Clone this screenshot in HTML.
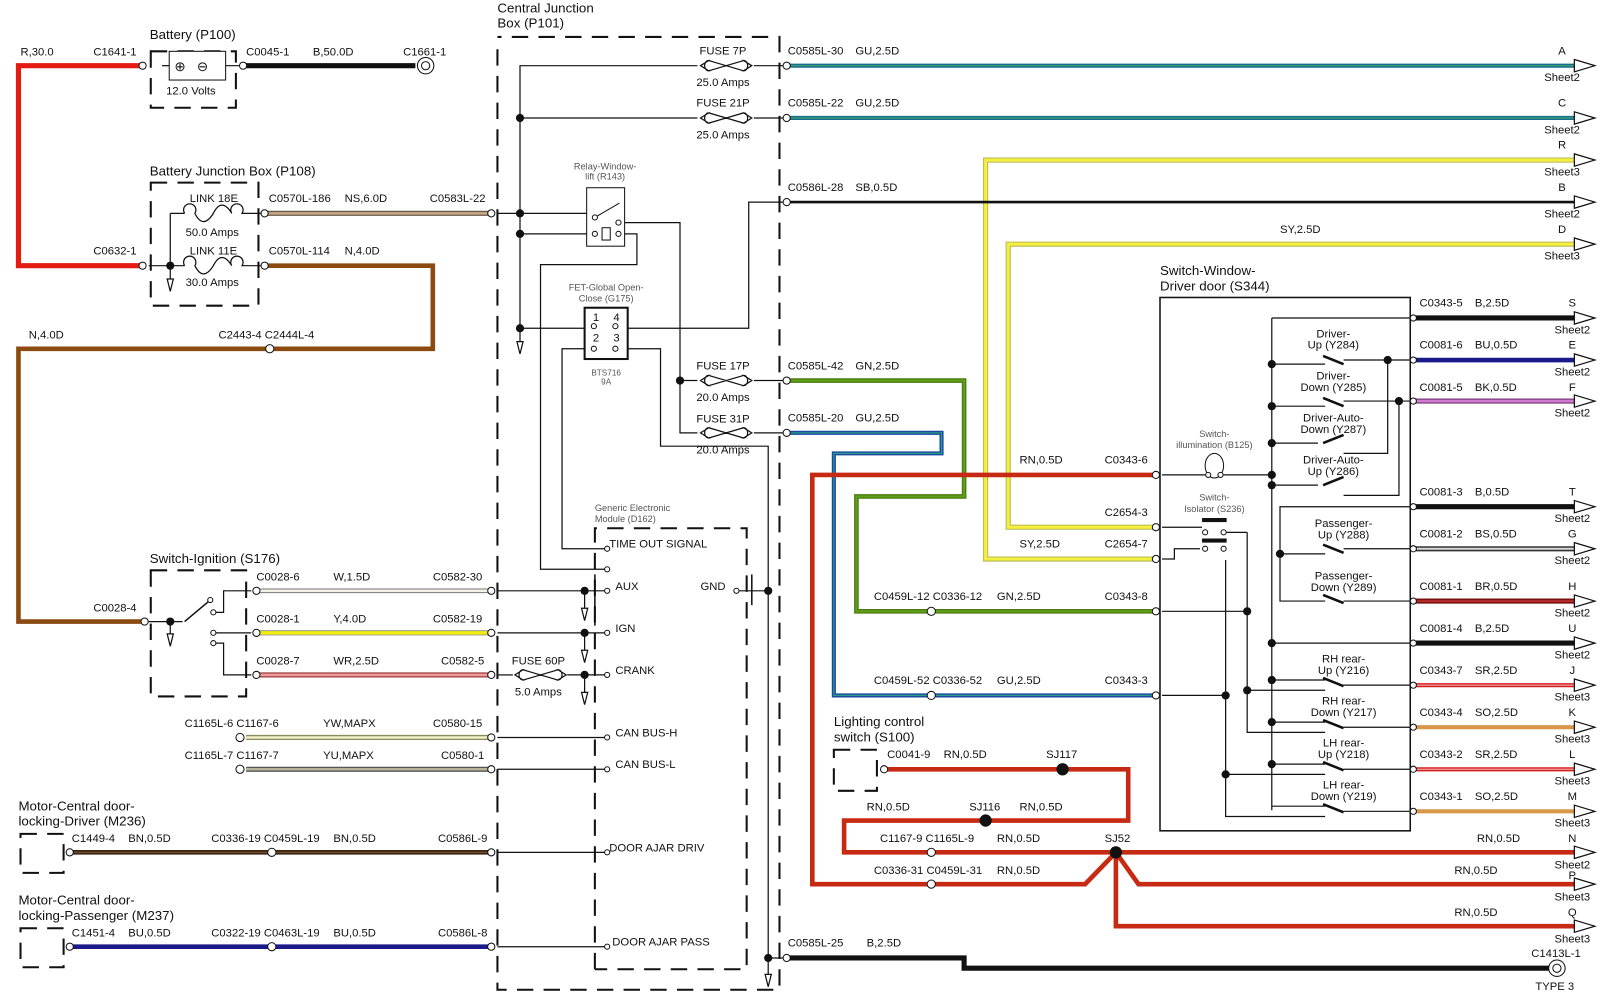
<!DOCTYPE html>
<html><head><meta charset="utf-8"><style>
html,body{margin:0;padding:0;background:#fff}
svg{display:block}
text{font-family:"Liberation Sans",sans-serif;font-size:11px;fill:#111}
.s{font-size:9px;fill:#555}
.b{font-size:13px}
.w{fill:none;stroke:#111;stroke-width:1.2}
.d{fill:none;stroke:#111;stroke-width:2;stroke-dasharray:16 10}
.c{fill:#fff;stroke:#111;stroke-width:1}
.a{fill:#fff;stroke:#111;stroke-width:1.2}
</style></head><body>
<svg width="1600" height="997" viewBox="0 0 1560 972" xmlns="http://www.w3.org/2000/svg">
<!-- Colored wires -->
<g fill="none" stroke-linejoin="miter">
<polyline points="138,64 18,64 18,259 138,259" stroke="#e31b12" stroke-width="5"/>
<line x1="237" y1="64" x2="405" y2="64" stroke="#111" stroke-width="5"/>
<line x1="258" y1="208" x2="478" y2="208" stroke="#6a5a48" stroke-width="5"/>
<line x1="258" y1="208" x2="478" y2="208" stroke="#c8aa88" stroke-width="2.5"/>
<polyline points="258,259 422,259 422,340 18,340 18,606 140,606" stroke="#8a4a10" stroke-width="4.5"/>
<!-- ignition wires -->
<line x1="250" y1="576" x2="478" y2="576" stroke="#777" stroke-width="4.5"/><line x1="250" y1="576" x2="478" y2="576" stroke="#f4f2e6" stroke-width="2.5"/>
<line x1="250" y1="617" x2="478" y2="617" stroke="#888" stroke-width="5"/><line x1="250" y1="617" x2="478" y2="617" stroke="#f2ee10" stroke-width="3.5"/>
<line x1="250" y1="658" x2="478" y2="658" stroke="#9a3a3a" stroke-width="5"/><line x1="250" y1="658" x2="478" y2="658" stroke="#f19a9a" stroke-width="2.5"/>
<line x1="240" y1="719" x2="478" y2="719" stroke="#8a8a60" stroke-width="5"/><line x1="240" y1="719" x2="478" y2="719" stroke="#f2f0c8" stroke-width="2.5"/>
<line x1="240" y1="750" x2="478" y2="750" stroke="#555" stroke-width="5"/><line x1="240" y1="750" x2="478" y2="750" stroke="#b6b59a" stroke-width="2.5"/>
<line x1="68" y1="831" x2="478" y2="831" stroke="#3a2410" stroke-width="4.5"/><line x1="68" y1="831" x2="478" y2="831" stroke="#6a4a2a" stroke-width="1.5"/>
<line x1="68" y1="923" x2="478" y2="923" stroke="#1a1a8a" stroke-width="4.5"/>
<!-- right side wires -->
<line x1="767" y1="64" x2="1535" y2="64" stroke="#1a6a8a" stroke-width="4"/><line x1="767" y1="64" x2="1535" y2="64" stroke="#3aa07a" stroke-width="1.2"/>
<line x1="767" y1="115" x2="1535" y2="115" stroke="#1a6a8a" stroke-width="4"/><line x1="767" y1="115" x2="1535" y2="115" stroke="#3aa07a" stroke-width="1.2"/>
<polyline points="1535,156 961,156 961,545 1127,545" stroke="#b8b850" stroke-width="5"/><polyline points="1535,156 961,156 961,545 1127,545" stroke="#f5f040" stroke-width="3"/>
<polyline points="1535,238 983,238 983,514 1127,514" stroke="#b8b850" stroke-width="5"/><polyline points="1535,238 983,238 983,514 1127,514" stroke="#f5f040" stroke-width="3"/>
<line x1="767" y1="197" x2="1535" y2="197" stroke="#111" stroke-width="2.5"/>
<polyline points="767,371 940,371 940,484 835,484 835,596 1127,596" stroke="#4a7a10" stroke-width="4.5"/><polyline points="767,371 940,371 940,484 835,484 835,596 1127,596" stroke="#5fa018" stroke-width="2"/>
<polyline points="767,422 918,422 918,442 813,442 813,678 1127,678" stroke="#1a4aa0" stroke-width="4"/><polyline points="767,422 918,422 918,442 813,442 813,678 1127,678" stroke="#2a9a8a" stroke-width="1.2"/>
<polyline points="1127,463 792,463 792,862 1058,862 1088,831 1110,862 1535,862" stroke="#c62a12" stroke-width="4.5"/>
<polyline points="862,750 1100,750 1100,800 823,800 823,831 1535,831" stroke="#c62a12" stroke-width="4.5"/>
<polyline points="1088,831 1088,903 1535,903" stroke="#c62a12" stroke-width="4.5"/>
<line x1="1375" y1="310" x2="1535" y2="310" stroke="#111" stroke-width="5"/>
<line x1="1375" y1="351" x2="1535" y2="351" stroke="#1a1a8a" stroke-width="4.5"/>
<line x1="1375" y1="391" x2="1535" y2="391" stroke="#7a3a7a" stroke-width="5"/><line x1="1375" y1="391" x2="1535" y2="391" stroke="#d07ad0" stroke-width="2.5"/>
<line x1="1375" y1="494" x2="1535" y2="494" stroke="#111" stroke-width="5"/>
<line x1="1375" y1="535" x2="1535" y2="535" stroke="#333" stroke-width="5"/><line x1="1375" y1="535" x2="1535" y2="535" stroke="#d8d8d8" stroke-width="2"/>
<line x1="1375" y1="586" x2="1535" y2="586" stroke="#7a1010" stroke-width="5"/><line x1="1375" y1="586" x2="1535" y2="586" stroke="#c03030" stroke-width="1.5"/>
<line x1="1375" y1="627" x2="1535" y2="627" stroke="#111" stroke-width="5"/>
<line x1="1375" y1="668" x2="1535" y2="668" stroke="#d02020" stroke-width="4"/><line x1="1375" y1="668" x2="1535" y2="668" stroke="#f7a0a0" stroke-width="1.2"/>
<line x1="1375" y1="709" x2="1535" y2="709" stroke="#d8964a" stroke-width="4"/>
<line x1="1375" y1="750" x2="1535" y2="750" stroke="#d02020" stroke-width="4"/><line x1="1375" y1="750" x2="1535" y2="750" stroke="#f7a0a0" stroke-width="1.2"/>
<line x1="1375" y1="791" x2="1535" y2="791" stroke="#d8964a" stroke-width="4"/>
<polyline points="767,934 940,934 940,944 1510,944" stroke="#111" stroke-width="5"/>
</g>
<!-- thin black wiring -->
<g class="w">
<polyline points="507,345 507,64 680,64"/><line x1="507" y1="115" x2="680" y2="115"/>
<line x1="485" y1="208" x2="578" y2="208"/><line x1="507" y1="228" x2="578" y2="228"/>
<line x1="507" y1="320" x2="576" y2="320"/><polyline points="606,320 730,320 730,197 767,197"/>
<polyline points="606,217 663,217 663,422 680,422"/><line x1="663" y1="371" x2="680" y2="371"/>
<polyline points="606,228 621,228 621,258 527,258 527,555 590,555"/>
<polyline points="576,340 548,340 548,535 590,535"/>
<polyline points="606,340 644,340 644,435 749,435 749,955"/>
<line x1="735" y1="64" x2="767" y2="64"/><line x1="735" y1="115" x2="767" y2="115"/>
<line x1="735" y1="371" x2="767" y2="371"/><line x1="735" y1="422" x2="767" y2="422"/>
<line x1="718" y1="576" x2="749" y2="576"/><line x1="749" y1="934" x2="767" y2="934"/>
<line x1="485" y1="576" x2="590" y2="576"/><line x1="485" y1="617" x2="590" y2="617"/>
<line x1="485" y1="658" x2="500" y2="658"/><line x1="553" y1="658" x2="590" y2="658"/>
<line x1="485" y1="719" x2="590" y2="719"/><line x1="485" y1="750" x2="590" y2="750"/>
<line x1="485" y1="831" x2="590" y2="831"/><line x1="485" y1="923" x2="590" y2="923"/>
<line x1="570" y1="576" x2="570" y2="600"/><line x1="570" y1="617" x2="570" y2="642"/><line x1="570" y1="658" x2="570" y2="683"/>
<line x1="166" y1="259" x2="166" y2="280"/><line x1="166" y1="208" x2="166" y2="259"/><line x1="166" y1="208" x2="180" y2="208"/>
<line x1="145" y1="259" x2="180" y2="259"/><line x1="145" y1="606" x2="178" y2="606"/><line x1="166" y1="606" x2="166" y2="625"/>
<polyline points="210,597 218,597 218,576 245,576"/><line x1="210" y1="617" x2="245" y2="617"/><polyline points="210,627 218,627 218,658 245,658"/>
<line x1="158" y1="64" x2="170" y2="64"/><line x1="215" y1="64" x2="233" y2="64"/>
<!-- switch box internals -->
<polyline points="1133,463 1175,463"/><line x1="1193" y1="463" x2="1240" y2="463"/>
<line x1="1240" y1="310" x2="1240" y2="790"/><line x1="1240" y1="310" x2="1380" y2="310"/>
<line x1="1240" y1="355" x2="1292" y2="355"/><line x1="1310" y1="351" x2="1380" y2="351"/>
<line x1="1240" y1="396" x2="1292" y2="396"/><line x1="1310" y1="391" x2="1380" y2="391"/>
<line x1="1240" y1="432" x2="1285" y2="432"/><polyline points="1310,442 1353,442 1353,351"/>
<line x1="1240" y1="473" x2="1285" y2="473"/><polyline points="1310,483 1364,483 1364,391"/>
<polyline points="1380,494 1248,494 1248,586 1292,586"/><line x1="1248" y1="540" x2="1292" y2="540"/>
<line x1="1310" y1="535" x2="1380" y2="535"/><line x1="1310" y1="586" x2="1380" y2="586"/>
<line x1="1240" y1="627" x2="1380" y2="627"/>
<line x1="1240" y1="663" x2="1292" y2="663"/><line x1="1310" y1="668" x2="1380" y2="668"/>
<line x1="1240" y1="704" x2="1292" y2="704"/><line x1="1310" y1="709" x2="1380" y2="709"/>
<line x1="1240" y1="745" x2="1292" y2="745"/><line x1="1310" y1="750" x2="1380" y2="750"/>
<line x1="1240" y1="786" x2="1292" y2="786"/><line x1="1310" y1="791" x2="1380" y2="791"/>
<polyline points="1133,596 1216,596 1216,714 1292,714"/><line x1="1216" y1="519" x2="1216" y2="596"/><line x1="1193" y1="519" x2="1216" y2="519"/>
<polyline points="1133,678 1195,678 1195,796 1292,796"/><line x1="1195" y1="546" x2="1195" y2="678"/><line x1="1195" y1="755" x2="1292" y2="755"/><line x1="1216" y1="673" x2="1292" y2="673"/>
<polyline points="1133,545 1145,545 1145,535 1170,535"/><line x1="1133" y1="514" x2="1172" y2="514"/>
</g>
<!-- dashed boxes -->
<g class="d">
<polyline points="485,48 485,965 760,965 760,36 485,36"/>
<polyline points="580,945 580,515 728,515 728,945 580,945"/>
<rect x="147" y="50" width="83" height="55"/>
<rect x="147" y="178" width="105" height="120"/>
<rect x="147" y="556" width="93" height="123"/>
<rect x="20" y="813" width="42" height="38"/>
<rect x="20" y="905" width="42" height="38"/>
<rect x="813" y="731" width="42" height="40"/>
</g>
<line x1="580" y1="560" x2="580" y2="610" stroke="#111" stroke-width="1.5"/>
<line x1="733" y1="560" x2="733" y2="590" stroke="#111" stroke-width="1.5"/>
<!-- component boxes -->
<rect x="165" y="50" width="55" height="28" class="c"/>
<text x="170" y="69" class="b">⊕</text><text x="192" y="69" class="b">⊖</text>
<rect x="572" y="183" width="37" height="57" class="c"/>
<line x1="580" y1="212" x2="604" y2="198" stroke="#111"/><rect x="587" y="222" width="8" height="12" class="c"/>
<rect x="570" y="300" width="42" height="50" fill="#fff" stroke="#111" stroke-width="2"/>
<text x="578" y="313">1</text><text x="598" y="313">4</text><text x="578" y="333">2</text><text x="598" y="333">3</text>
<rect x="1131" y="290" width="244" height="520" fill="none" stroke="#111" stroke-width="1.5"/>
<ellipse cx="1184" cy="454" rx="9" ry="12" fill="#fff" stroke="#111"/>
<rect x="1172" y="505" width="24" height="4" fill="#111"/><rect x="1172" y="525" width="24" height="4" fill="#111"/>
<!-- switch blades -->
<g stroke="#111" stroke-width="2.5">
<line x1="1290" y1="347" x2="1310" y2="355"/><line x1="1290" y1="388" x2="1310" y2="396"/>
<line x1="1290" y1="432" x2="1310" y2="424"/><line x1="1290" y1="473" x2="1310" y2="465"/>
<line x1="1290" y1="531" x2="1310" y2="539"/><line x1="1290" y1="580" x2="1310" y2="588"/>
<line x1="1290" y1="661" x2="1310" y2="669"/><line x1="1290" y1="702" x2="1310" y2="710"/>
<line x1="1290" y1="743" x2="1310" y2="751"/><line x1="1290" y1="784" x2="1310" y2="792"/>
<line x1="180" y1="606" x2="205" y2="585" stroke-width="1.5"/>
</g>
<!-- fuses -->
<g fill="none" stroke="#111" stroke-width="1.2">
<path d="M683,64 l8,-5 a4,5 0 1 0 0,10z M733,64 l-8,-5 a4,5 0 1 1 0,10z M691,59 L725,69 M691,69 L725,59"/>
<path d="M683,115 l8,-5 a4,5 0 1 0 0,10z M733,115 l-8,-5 a4,5 0 1 1 0,10z M691,110 L725,120 M691,120 L725,110"/>
<path d="M683,371 l8,-5 a4,5 0 1 0 0,10z M733,371 l-8,-5 a4,5 0 1 1 0,10z M691,366 L725,376 M691,376 L725,366"/>
<path d="M683,422 l8,-5 a4,5 0 1 0 0,10z M733,422 l-8,-5 a4,5 0 1 1 0,10z M691,417 L725,427 M691,427 L725,417"/>
<path d="M502,658 l8,-5 a4,5 0 1 0 0,10z M552,658 l-8,-5 a4,5 0 1 1 0,10z M510,653 L544,663 M510,663 L544,653"/>
<path d="M180,208 a6,6 0 1 1 10,0 q8,16 18,0 q8,-16 18,0 a6,6 0 1 1 10,0 L258,208"/>
<path d="M180,259 a6,6 0 1 1 10,0 q8,16 18,0 q8,-16 18,0 a6,6 0 1 1 10,0 L258,259"/>
</g>
<!-- connectors -->
<g class="c">
<circle cx="139" cy="64" r="3.5"/><circle cx="237" cy="64" r="3.5"/><circle cx="139" cy="259" r="3.5"/>
<circle cx="258" cy="208" r="3.5"/><circle cx="258" cy="259" r="3.5"/><circle cx="479" cy="208" r="3.5"/>
<circle cx="263" cy="340" r="4"/><circle cx="141" cy="606" r="3.5"/>
<circle cx="250" cy="576" r="3.5"/><circle cx="250" cy="617" r="3.5"/><circle cx="250" cy="658" r="3.5"/>
<circle cx="479" cy="576" r="3.5"/><circle cx="479" cy="617" r="3.5"/><circle cx="479" cy="658" r="3.5"/>
<circle cx="479" cy="719" r="3.5"/><circle cx="479" cy="750" r="3.5"/><circle cx="479" cy="831" r="3.5"/><circle cx="479" cy="923" r="3.5"/>
<circle cx="234" cy="719" r="4"/><circle cx="234" cy="750" r="4"/><circle cx="68" cy="831" r="3.5"/><circle cx="68" cy="923" r="3.5"/>
<circle cx="265" cy="831" r="4"/><circle cx="265" cy="923" r="4"/>
<circle cx="767" cy="64" r="3.5"/><circle cx="767" cy="115" r="3.5"/><circle cx="767" cy="197" r="3.5"/><circle cx="767" cy="371" r="3.5"/><circle cx="767" cy="422" r="3.5"/><circle cx="767" cy="934" r="3.5"/>
<circle cx="1127" cy="463" r="3.5"/><circle cx="1127" cy="514" r="3.5"/><circle cx="1127" cy="545" r="3.5"/><circle cx="1127" cy="596" r="3.5"/><circle cx="1127" cy="678" r="3.5"/>
<circle cx="908" cy="596" r="4"/><circle cx="908" cy="678" r="4"/><circle cx="908" cy="831" r="4"/><circle cx="908" cy="862" r="4"/><circle cx="862" cy="750" r="3.5"/>
<circle cx="1378" cy="310" r="3"/><circle cx="1378" cy="351" r="3"/><circle cx="1378" cy="391" r="3"/><circle cx="1378" cy="494" r="3"/><circle cx="1378" cy="535" r="3"/><circle cx="1378" cy="586" r="3"/><circle cx="1378" cy="627" r="3"/><circle cx="1378" cy="668" r="3"/><circle cx="1378" cy="709" r="3"/><circle cx="1378" cy="750" r="3"/><circle cx="1378" cy="791" r="3"/>
<circle cx="592" cy="535" r="2.5"/><circle cx="592" cy="555" r="2.5"/><circle cx="592" cy="576" r="2.5"/><circle cx="592" cy="617" r="2.5"/><circle cx="592" cy="658" r="2.5"/><circle cx="592" cy="719" r="2.5"/><circle cx="592" cy="750" r="2.5"/><circle cx="592" cy="831" r="2.5"/><circle cx="592" cy="923" r="2.5"/><circle cx="718" cy="576" r="2.5"/>
<circle cx="208" cy="597" r="2.5"/><circle cx="208" cy="617" r="2.5"/><circle cx="208" cy="627" r="2.5"/><circle cx="205" cy="585" r="2.5"/>
<circle cx="415" cy="64" r="8"/><circle cx="415" cy="64" r="4"/><circle cx="1518" cy="944" r="8"/><circle cx="1518" cy="944" r="4"/>
<circle cx="579" cy="318" r="2.5"/><circle cx="600" cy="318" r="2.5"/><circle cx="579" cy="340" r="2.5"/><circle cx="600" cy="340" r="2.5"/>
<circle cx="580" cy="212" r="2.5"/><circle cx="580" cy="228" r="2.5"/><circle cx="603" cy="217" r="2.5"/><circle cx="603" cy="228" r="2.5"/>
<circle cx="1178" cy="463" r="2.5"/><circle cx="1190" cy="463" r="2.5"/><circle cx="1175" cy="519" r="2.5"/><circle cx="1193" cy="519" r="2.5"/><circle cx="1175" cy="535" r="2.5"/><circle cx="1193" cy="535" r="2.5"/>
</g>
<!-- junction dots -->
<g fill="#111">
<circle cx="507" cy="115" r="4"/><circle cx="507" cy="208" r="4"/><circle cx="507" cy="228" r="4"/><circle cx="507" cy="320" r="4"/>
<circle cx="663" cy="371" r="4"/><circle cx="166" cy="259" r="4"/><circle cx="166" cy="606" r="4"/>
<circle cx="570" cy="576" r="4"/><circle cx="570" cy="617" r="4"/><circle cx="570" cy="658" r="4"/><circle cx="749" cy="576" r="4"/><circle cx="749" cy="934" r="4"/>
<circle cx="1036" cy="750" r="6"/><circle cx="961" cy="800" r="6"/><circle cx="1088" cy="831" r="6"/>
<circle cx="1240" cy="355" r="4"/><circle cx="1240" cy="396" r="4"/><circle cx="1240" cy="432" r="4"/><circle cx="1240" cy="463" r="4"/><circle cx="1240" cy="473" r="4"/><circle cx="1240" cy="627" r="4"/><circle cx="1240" cy="663" r="4"/><circle cx="1240" cy="704" r="4"/><circle cx="1240" cy="745" r="4"/>
<circle cx="1353" cy="351" r="4"/><circle cx="1364" cy="391" r="4"/><circle cx="1248" cy="540" r="4"/><circle cx="1216" cy="596" r="4"/><circle cx="1216" cy="673" r="4"/><circle cx="1195" cy="678" r="4"/><circle cx="1195" cy="755" r="4"/>
</g>
<!-- ground arrows -->
<g class="a">
<path d="M504,333 l3,12 l3,-12z"/><path d="M163,272 l3,12 l3,-12z"/><path d="M163,618 l3,12 l3,-12z"/>
<path d="M567,593 l3,12 l3,-12z"/><path d="M567,634 l3,12 l3,-12z"/><path d="M567,675 l3,12 l3,-12z"/><path d="M746,950 l3,12 l3,-12z"/>
</g>
<!-- sheet arrows -->
<g class="a">
<path d="M1535,58 l20,6 l-20,6z"/><path d="M1535,109 l20,6 l-20,6z"/><path d="M1535,150 l20,6 l-20,6z"/><path d="M1535,191 l20,6 l-20,6z"/><path d="M1535,232 l20,6 l-20,6z"/>
<path d="M1535,304 l20,6 l-20,6z"/><path d="M1535,345 l20,6 l-20,6z"/><path d="M1535,385 l20,6 l-20,6z"/><path d="M1535,488 l20,6 l-20,6z"/><path d="M1535,529 l20,6 l-20,6z"/><path d="M1535,580 l20,6 l-20,6z"/><path d="M1535,621 l20,6 l-20,6z"/><path d="M1535,662 l20,6 l-20,6z"/><path d="M1535,703 l20,6 l-20,6z"/><path d="M1535,744 l20,6 l-20,6z"/><path d="M1535,785 l20,6 l-20,6z"/><path d="M1535,825 l20,6 l-20,6z"/><path d="M1535,856 l20,6 l-20,6z"/><path d="M1535,897 l20,6 l-20,6z"/>
</g>
<!-- labels -->
<text x="146" y="38" class="b">Battery (P100)</text>
<text x="20" y="54">R,30.0</text><text x="91" y="54">C1641-1</text><text x="240" y="54">C0045-1</text><text x="305" y="54">B,50.0D</text><text x="393" y="54">C1661-1</text>
<text x="162" y="92">12.0 Volts</text>
<text x="485" y="12" class="b">Central Junction</text><text x="485" y="27" class="b">Box (P101)</text>
<text x="146" y="171" class="b">Battery Junction Box (P108)</text>
<text x="185" y="197">LINK 18E</text><text x="181" y="230">50.0 Amps</text><text x="185" y="248">LINK 11E</text><text x="181" y="279">30.0 Amps</text>
<text x="262" y="197">C0570L-186</text><text x="336" y="197">NS,6.0D</text><text x="419" y="197">C0583L-22</text>
<text x="91" y="248">C0632-1</text><text x="262" y="248">C0570L-114</text><text x="336" y="248">N,4.0D</text>
<text x="28" y="330">N,4.0D</text><text x="213" y="330">C2443-4 C2444L-4</text>
<text x="682" y="53">FUSE 7P</text><text x="679" y="84">25.0 Amps</text><text x="679" y="104">FUSE 21P</text><text x="679" y="135">25.0 Amps</text>
<text x="679" y="360">FUSE 17P</text><text x="679" y="391">20.0 Amps</text><text x="679" y="412">FUSE 31P</text><text x="679" y="442">20.0 Amps</text>
<text x="590" y="165" class="s" text-anchor="middle">Relay-Window-</text><text x="590" y="175" class="s" text-anchor="middle">lift (R143)</text>
<text x="591" y="283" class="s" text-anchor="middle">FET-Global Open-</text><text x="591" y="294" class="s" text-anchor="middle">Close (G175)</text>
<text x="591" y="366" class="s" text-anchor="middle" style="font-size:8px">BTS716</text><text x="591" y="375" class="s" text-anchor="middle" style="font-size:8px">9A</text>
<text x="580" y="498" class="s">Generic Electronic</text><text x="580" y="509" class="s">Module (D162)</text>
<text x="594" y="534">TIME OUT SIGNAL</text><text x="600" y="575">AUX</text><text x="600" y="616">IGN</text><text x="600" y="657">CRANK</text>
<text x="600" y="718">CAN BUS-H</text><text x="600" y="749">CAN BUS-L</text><text x="594" y="830">DOOR AJAR DRIV</text><text x="597" y="922">DOOR AJAR PASS</text><text x="683" y="575">GND</text>
<text x="146" y="549" class="b">Switch-Ignition (S176)</text>
<text x="91" y="596">C0028-4</text>
<text x="250" y="566">C0028-6</text><text x="325" y="566">W,1.5D</text><text x="422" y="566">C0582-30</text>
<text x="250" y="607">C0028-1</text><text x="325" y="607">Y,4.0D</text><text x="422" y="607">C0582-19</text>
<text x="250" y="648">C0028-7</text><text x="325" y="648">WR,2.5D</text><text x="430" y="648">C0582-5</text>
<text x="499" y="648">FUSE 60P</text><text x="502" y="678">5.0 Amps</text>
<text x="180" y="709">C1165L-6 C1167-6</text><text x="315" y="709">YW,MAPX</text><text x="422" y="709">C0580-15</text>
<text x="180" y="740">C1165L-7 C1167-7</text><text x="315" y="740">YU,MAPX</text><text x="430" y="740">C0580-1</text>
<text x="18" y="790" class="b">Motor-Central door-</text><text x="18" y="805" class="b">locking-Driver (M236)</text>
<text x="70" y="821">C1449-4</text><text x="125" y="821">BN,0.5D</text><text x="206" y="821">C0336-19 C0459L-19</text><text x="325" y="821">BN,0.5D</text><text x="427" y="821">C0586L-9</text>
<text x="18" y="882" class="b">Motor-Central door-</text><text x="18" y="897" class="b">locking-Passenger (M237)</text>
<text x="70" y="913">C1451-4</text><text x="125" y="913">BU,0.5D</text><text x="206" y="913">C0322-19 C0463L-19</text><text x="325" y="913">BU,0.5D</text><text x="427" y="913">C0586L-8</text>
<text x="768" y="53">C0585L-30</text><text x="834" y="53">GU,2.5D</text><text x="768" y="104">C0585L-22</text><text x="834" y="104">GU,2.5D</text>
<text x="768" y="186">C0586L-28</text><text x="834" y="186">SB,0.5D</text><text x="768" y="360">C0585L-42</text><text x="834" y="360">GN,2.5D</text>
<text x="768" y="411">C0585L-20</text><text x="834" y="411">GU,2.5D</text><text x="768" y="923">C0585L-25</text><text x="845" y="923">B,2.5D</text>
<text x="1248" y="227">SY,2.5D</text><text x="994" y="452">RN,0.5D</text><text x="1077" y="452">C0343-6</text>
<text x="1077" y="503">C2654-3</text><text x="994" y="534">SY,2.5D</text><text x="1077" y="534">C2654-7</text>
<text x="852" y="585">C0459L-12 C0336-12</text><text x="972" y="585">GN,2.5D</text><text x="1077" y="585">C0343-8</text>
<text x="852" y="667">C0459L-52 C0336-52</text><text x="972" y="667">GU,2.5D</text><text x="1077" y="667">C0343-3</text>
<text x="813" y="708" class="b">Lighting control</text><text x="813" y="723" class="b">switch (S100)</text>
<text x="865" y="739">C0041-9</text><text x="920" y="739">RN,0.5D</text><text x="1020" y="739">SJ117</text>
<text x="845" y="790">RN,0.5D</text><text x="945" y="790">SJ116</text><text x="994" y="790">RN,0.5D</text>
<text x="858" y="821">C1167-9 C1165L-9</text><text x="972" y="821">RN,0.5D</text><text x="1077" y="821">SJ52</text>
<text x="852" y="852">C0336-31 C0459L-31</text><text x="972" y="852">RN,0.5D</text>
<text x="1440" y="821">RN,0.5D</text><text x="1418" y="852">RN,0.5D</text><text x="1418" y="893">RN,0.5D</text>
<text x="1493" y="933">C1413L-1</text><text x="1497" y="965">TYPE 3</text>
<text x="1131" y="268" class="b">Switch-Window-</text><text x="1131" y="283" class="b">Driver door (S344)</text>
<text x="1184" y="426" class="s" text-anchor="middle">Switch-</text><text x="1184" y="437" class="s" text-anchor="middle">illumination (B125)</text>
<text x="1184" y="488" class="s" text-anchor="middle">Switch-</text><text x="1184" y="499" class="s" text-anchor="middle">Isolator (S236)</text>
<g class="s" text-anchor="middle">
<text x="1300" y="329">Driver-</text><text x="1300" y="340">Up (Y284)</text>
<text x="1300" y="370">Driver-</text><text x="1300" y="381">Down (Y285)</text>
<text x="1300" y="411">Driver-Auto-</text><text x="1300" y="422">Down (Y287)</text>
<text x="1300" y="452">Driver-Auto-</text><text x="1300" y="463">Up (Y286)</text>
<text x="1310" y="514">Passenger-</text><text x="1310" y="525">Up (Y288)</text>
<text x="1310" y="565">Passenger-</text><text x="1310" y="576">Down (Y289)</text>
<text x="1310" y="646">RH rear-</text><text x="1310" y="657">Up (Y216)</text>
<text x="1310" y="687">RH rear-</text><text x="1310" y="698">Down (Y217)</text>
<text x="1310" y="728">LH rear-</text><text x="1310" y="739">Up (Y218)</text>
<text x="1310" y="769">LH rear-</text><text x="1310" y="780">Down (Y219)</text>
</g>
<g>
<text x="1384" y="299">C0343-5</text><text x="1438" y="299">B,2.5D</text>
<text x="1384" y="340">C0081-6</text><text x="1438" y="340">BU,0.5D</text>
<text x="1384" y="381">C0081-5</text><text x="1438" y="381">BK,0.5D</text>
<text x="1384" y="483">C0081-3</text><text x="1438" y="483">B,0.5D</text>
<text x="1384" y="524">C0081-2</text><text x="1438" y="524">BS,0.5D</text>
<text x="1384" y="575">C0081-1</text><text x="1438" y="575">BR,0.5D</text>
<text x="1384" y="616">C0081-4</text><text x="1438" y="616">B,2.5D</text>
<text x="1384" y="657">C0343-7</text><text x="1438" y="657">SR,2.5D</text>
<text x="1384" y="698">C0343-4</text><text x="1438" y="698">SO,2.5D</text>
<text x="1384" y="739">C0343-2</text><text x="1438" y="739">SR,2.5D</text>
<text x="1384" y="780">C0343-1</text><text x="1438" y="780">SO,2.5D</text>
</g>
<g text-anchor="middle">
<text x="1523" y="53">A</text><text x="1523" y="79">Sheet2</text><text x="1523" y="104">C</text><text x="1523" y="130">Sheet2</text>
<text x="1523" y="145">R</text><text x="1523" y="171">Sheet3</text><text x="1523" y="186">B</text><text x="1523" y="212">Sheet2</text>
<text x="1523" y="227">D</text><text x="1523" y="253">Sheet3</text>
<text x="1533" y="299">S</text><text x="1533" y="325">Sheet2</text><text x="1533" y="340">E</text><text x="1533" y="366">Sheet2</text>
<text x="1533" y="381">F</text><text x="1533" y="406">Sheet2</text><text x="1533" y="483">T</text><text x="1533" y="509">Sheet2</text>
<text x="1533" y="524">G</text><text x="1533" y="550">Sheet2</text><text x="1533" y="575">H</text><text x="1533" y="601">Sheet2</text>
<text x="1533" y="616">U</text><text x="1533" y="642">Sheet2</text><text x="1533" y="657">J</text><text x="1533" y="683">Sheet3</text>
<text x="1533" y="698">K</text><text x="1533" y="724">Sheet3</text><text x="1533" y="739">L</text><text x="1533" y="765">Sheet3</text>
<text x="1533" y="780">M</text><text x="1533" y="806">Sheet3</text><text x="1533" y="821">N</text><text x="1533" y="847">Sheet2</text>
<text x="1533" y="857">P</text><text x="1533" y="878">Sheet3</text><text x="1533" y="893">Q</text><text x="1533" y="919">Sheet3</text>
</g>
</svg>
</body></html>
